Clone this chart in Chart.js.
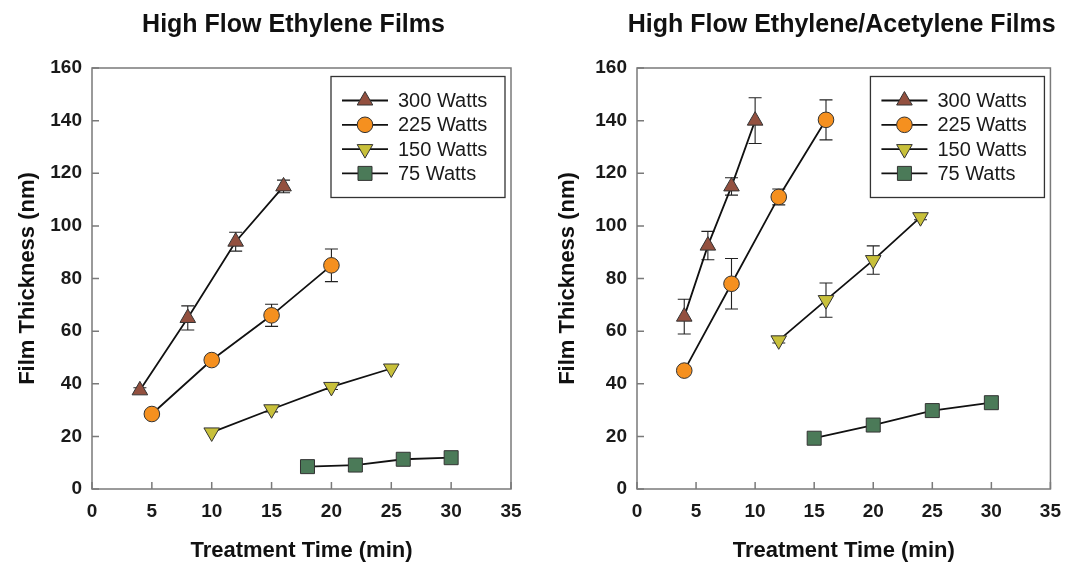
<!DOCTYPE html>
<html>
<head>
<meta charset="utf-8">
<script src="https://cdn.jsdelivr.net/npm/chart.js@4.4.1/dist/chart.umd.min.js"></script>
<style>
  body { margin: 0; background: #fff; }
  canvas { position: absolute; top: 0; }
</style>
</head>
<body>
<canvas id="left" width="540" height="566" style="left:0"></canvas>
<canvas id="right" width="532" height="566" style="left:540px"></canvas>
<script>
// legend labels
const powerLabels = ["300 Watts", "225 Watts", "150 Watts", "75 Watts"];

// axis ticks
const xMin = 0, xMax = 35, xStep = 5;
const yMin = 0, yMax = 160, yStep = 20;

// High Flow Ethylene Films
const ethTime300 = [4, 8, 12, 16];
const ethThick300 = [37.5, 65, 94, 115];
const ethErr300 = [1, 4.6, 3.6, 2.4];
const ethTime225 = [5, 10, 15, 20];
const ethThick225 = [28.5, 49, 66, 85];
const ethErr225 = [0, 0, 4.2, 6.2];
const ethTime150 = [10, 15, 20, 25];
const ethThick150 = [21.5, 30.3, 38.8, 45.8];
const ethErr150 = [0, 1, 1, 0];
const ethTime75 = [18, 22, 26, 30];
const ethThick75 = [8.5, 9.1, 11.3, 11.9];
const ethErr75 = [0, 0, 0, 0];

// High Flow Ethylene/Acetylene Films
const acTime300 = [4, 6, 8, 10];
const acThick300 = [65.5, 92.5, 115, 140];
const acErr300 = [6.6, 5.4, 3.3, 8.7];
const acTime225 = [4, 8, 12, 16];
const acThick225 = [45, 78, 111, 140.3];
const acErr225 = [0, 9.6, 3, 7.6];
const acTime150 = [12, 16, 20, 24];
const acThick150 = [56.5, 71.8, 87, 103.3];
const acErr150 = [1, 6.5, 5.4, 1];
const acTime75 = [15, 20, 25, 30];
const acThick75 = [19.3, 24.3, 29.8, 32.8];
const acErr75 = [0, 0, 0, 0];

const FONT = "'Liberation Sans', Arial, Helvetica, sans-serif";
const FRAME = "#7a7a7a";

// marker look per power level
const markers = [
  { style: "triangle", rotation: 0, radius: 9, fill: "#93503f" },
  { style: "circle", rotation: 0, radius: 7.8, fill: "#f5901f" },
  { style: "triangle", rotation: 180, radius: 9, fill: "#c8c03a" },
  { style: "rect", rotation: 0, radius: 9.9, fill: "#4b7a58" }
];

function pts(xs, ys) {
  return xs.map((x, i) => ({ x: x, y: ys[i] }));
}

function makeDatasets(series) {
  return series.map((s, i) => ({
    label: powerLabels[i],
    data: pts(s[0], s[1]),
    errors: s[2],
    showLine: true,
    borderColor: "#111",
    borderWidth: 1.8,
    pointStyle: markers[i].style,
    rotation: markers[i].rotation,
    pointRadius: markers[i].radius,
    pointBackgroundColor: markers[i].fill,
    pointBorderColor: "#333",
    pointBorderWidth: 1
  }));
}

const sigmaPlugin = {
  id: "sigma",
  beforeDatasetsDraw(chart) {
    const ctx = chart.ctx, xs = chart.scales.x, ys = chart.scales.y;
    ctx.save();
    ctx.strokeStyle = "#222";
    ctx.lineWidth = 1.1;
    chart.data.datasets.forEach(ds => {
      ds.data.forEach((p, i) => {
        const e = ds.errors[i];
        if (!e) return;
        const px = xs.getPixelForValue(p.x);
        const y1 = ys.getPixelForValue(p.y + e);
        const y2 = ys.getPixelForValue(p.y - e);
        ctx.beginPath();
        ctx.moveTo(px, y1); ctx.lineTo(px, y2);
        ctx.moveTo(px - 6.5, y1); ctx.lineTo(px + 6.5, y1);
        ctx.moveTo(px - 6.5, y2); ctx.lineTo(px + 6.5, y2);
        ctx.stroke();
      });
    });
    ctx.restore();
  },
  afterDraw(chart, args, opts) {
    const ctx = chart.ctx, a = chart.chartArea;
    const xs = chart.scales.x, ys = chart.scales.y;
    ctx.save();
    // frame and inward ticks
    ctx.strokeStyle = FRAME;
    ctx.lineWidth = 1.5;
    ctx.strokeRect(a.left, a.top, a.right - a.left, a.bottom - a.top);
    ctx.beginPath();
    xs.ticks.forEach(t => {
      const px = xs.getPixelForValue(t.value);
      ctx.moveTo(px, a.bottom); ctx.lineTo(px, a.bottom - 7);
    });
    ys.ticks.forEach(t => {
      const py = ys.getPixelForValue(t.value);
      ctx.moveTo(a.left, py); ctx.lineTo(a.left + 7, py);
    });
    ctx.stroke();

    // title
    ctx.fillStyle = "#111";
    ctx.font = "bold 25px " + FONT;
    ctx.textAlign = "center";
    ctx.textBaseline = "middle";
    ctx.fillText(opts.title, (a.left + a.right) / 2 - opts.titleShift, 25);

    // legend box
    const bw = 174, bh = 121;
    const bx = a.right - 6 - bw, by = a.top + 8.5;
    ctx.fillStyle = "#fff";
    ctx.fillRect(bx, by, bw, bh);
    ctx.strokeStyle = "#333";
    ctx.lineWidth = 1.3;
    ctx.strokeRect(bx, by, bw, bh);
    chart.data.datasets.forEach((ds, i) => {
      const y = by + 24 + i * 24.3;
      ctx.strokeStyle = "#111";
      ctx.lineWidth = 1.8;
      ctx.beginPath();
      ctx.moveTo(bx + 11, y); ctx.lineTo(bx + 57, y);
      ctx.stroke();
      ctx.fillStyle = ds.pointBackgroundColor;
      ctx.strokeStyle = ds.pointBorderColor;
      ctx.lineWidth = 1;
      Chart.helpers.drawPoint(ctx, {
        pointStyle: ds.pointStyle, rotation: ds.rotation,
        radius: ds.pointRadius, borderWidth: 1
      }, bx + 34, y);
      ctx.fillStyle = "#1a1a1a";
      ctx.font = "20px " + FONT;
      ctx.textAlign = "left";
      ctx.fillText(ds.label, bx + 67, y + 1);
    });
    ctx.restore();
  }
};

function makeChart(id, series, title, yWidth, rightPad, titleShift) {
  return new Chart(document.getElementById(id), {
    type: "scatter",
    data: { datasets: makeDatasets(series) },
    plugins: [sigmaPlugin],
    options: {
      responsive: false,
      animation: false,
      layout: { padding: { top: 68, right: rightPad, left: 0, bottom: 0 } },
      plugins: {
        legend: { display: false },
        tooltip: { enabled: false },
        sigma: { title: title, titleShift: titleShift }
      },
      scales: {
        x: {
          type: "linear", min: xMin, max: xMax,
          grid: { display: false, drawTicks: false },
          border: { display: false },
          ticks: { stepSize: xStep, padding: 11, color: "#1a1a1a", font: { family: FONT, size: 19, weight: "bold" } },
          title: { display: true, text: "Treatment Time (min)", color: "#111", padding: { top: 0, bottom: 2 }, font: { family: FONT, size: 22, weight: "bold" } },
          afterFit(s) { s.height = 77; }
        },
        y: {
          type: "linear", min: yMin, max: yMax,
          grid: { display: false, drawTicks: false },
          border: { display: false },
          ticks: { stepSize: yStep, padding: 10, color: "#1a1a1a", font: { family: FONT, size: 19, weight: "bold" } },
          title: { display: true, text: "Film Thickness (nm)", color: "#111", padding: { top: 15, bottom: 0 }, font: { family: FONT, size: 22, weight: "bold" } },
          afterFit(s) { s.width = yWidth; }
        }
      }
    }
  });
}

makeChart("left", [
  [ethTime300, ethThick300, ethErr300],
  [ethTime225, ethThick225, ethErr225],
  [ethTime150, ethThick150, ethErr150],
  [ethTime75, ethThick75, ethErr75]
], "High Flow Ethylene Films", 92, 29, 8);

makeChart("right", [
  [acTime300, acThick300, acErr300],
  [acTime225, acThick225, acErr225],
  [acTime150, acThick150, acErr150],
  [acTime75, acThick75, acErr75]
], "High Flow Ethylene/Acetylene Films", 97, 16, 2);
</script>
</body>
</html>
